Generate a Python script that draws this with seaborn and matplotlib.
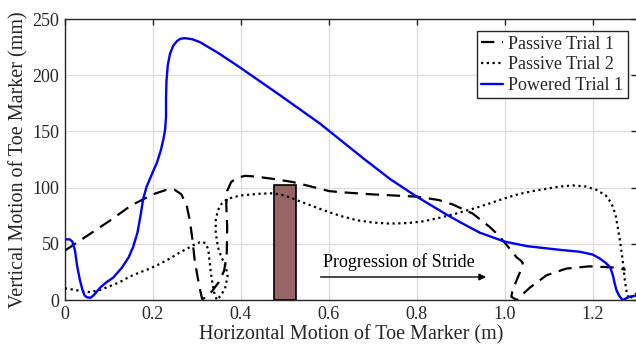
import numpy as np
import pandas as pd
import matplotlib
matplotlib.use("Agg")
import matplotlib.pyplot as plt
import seaborn as sns

# ---- data ----
powered_x = [0.0, 0.011, 0.017, 0.023, 0.028, 0.034, 0.04, 0.045, 0.05, 0.058, 0.065, 0.08,
             0.095, 0.11, 0.13, 0.145, 0.155, 0.165, 0.172, 0.178, 0.186, 0.2, 0.209, 0.218,
             0.224, 0.228, 0.23, 0.23, 0.231, 0.234, 0.239, 0.246, 0.255, 0.263, 0.273, 0.29,
             0.307, 0.35, 0.398, 0.49, 0.58, 0.682, 0.74, 0.8, 0.868, 0.9, 0.943, 1.0, 1.05,
             1.095, 1.13, 1.17, 1.2, 1.216, 1.23, 1.24, 1.246, 1.25, 1.254, 1.26, 1.268,
             1.276, 1.284, 1.3]
powered_y = [54, 54, 52, 44, 30, 18, 9, 4, 2.5, 2, 4, 11,
             16, 20, 29, 38, 47, 60, 75, 90, 101, 114, 122, 133,
             143, 152, 163, 180, 195, 209, 219, 226, 230.5, 232.5, 233, 232,
             229.5, 219.5, 207, 182, 157, 125, 107.5, 92, 76, 69, 60, 52, 48,
             46, 44.5, 43, 40.5, 37, 33, 29, 22, 15, 9, 4, 0,
             1.5, 3, 4]

passive1_x = [0.0, 0.05, 0.1, 0.15, 0.2, 0.23, 0.25, 0.265, 0.277, 0.284, 0.29, 0.295,
              0.302, 0.308, 0.312, 0.32, 0.335, 0.35, 0.362, 0.368, 0.369, 0.367, 0.369,
              0.378, 0.393, 0.41, 0.43, 0.47, 0.518, 0.56, 0.6, 0.625, 0.7, 0.8, 0.85,
              0.882, 0.91, 0.927, 0.95, 0.966, 0.985, 1.0, 1.015, 1.027, 1.037, 1.041,
              1.034, 1.018, 1.015, 1.027, 1.057, 1.095, 1.14, 1.193, 1.246, 1.275]
passive1_y = [44, 57, 70, 84, 94, 98, 98, 94, 84, 71, 54, 36,
              20, 8, 1, 2, 8, 16, 26, 40, 65, 85, 97,
              105, 109, 110.5, 110, 108, 105, 101, 97, 96, 94, 92, 89,
              85, 80, 77, 70, 65, 58, 51, 44, 38, 35, 33,
              24, 9, 3, 0, 11, 22, 28, 30, 29, 27]

passive2_x = [0.0, 0.03, 0.057, 0.08, 0.1, 0.125, 0.148, 0.17, 0.193, 0.215, 0.239, 0.26,
              0.284, 0.3, 0.311, 0.32, 0.326, 0.329, 0.332, 0.336, 0.341, 0.346, 0.356,
              0.364, 0.37, 0.366, 0.356, 0.348, 0.343, 0.343, 0.348, 0.357, 0.37, 0.398,
              0.44, 0.473, 0.5, 0.527, 0.56, 0.602, 0.63, 0.664, 0.7, 0.739, 0.78, 0.814,
              0.85, 0.89, 0.93, 0.966, 1.0, 1.034, 1.065, 1.095, 1.125, 1.155, 1.185, 1.209,
              1.23, 1.243, 1.252, 1.257, 1.262, 1.266, 1.27, 1.273, 1.277, 1.282, 1.29, 1.3]
passive2_y = [10.5, 8.5, 7, 9, 12, 16, 21, 24.5, 28, 32, 37, 42,
              47, 50.5, 52, 50.5, 45, 35, 24, 14, 4, 0, 5,
              10, 21, 30, 38, 47, 60, 71, 80, 86, 90, 93,
              94.5, 95, 93, 89, 84, 78, 74.5, 71, 69, 68, 68.5, 70,
              73, 77, 81.5, 86, 90.5, 94.5, 97, 99, 101, 102, 101, 98,
              93, 86, 76, 65, 53, 42, 30, 18, 8, 1, 3, 6]

bar_x = [0.5]
bar_h = [102]

labels = ["Passive Trial 1", "Passive Trial 2", "Powered Trial 1"]
xticks = [0, 0.2, 0.4, 0.6, 0.8, 1.0, 1.2]
xticklabels = ["0", "0.2", "0.4", "0.6", "0.8", "1.0", "1.2"]
yticks = [0, 50, 100, 150, 200, 250]

# ---- style ----
sns.set_theme(style="whitegrid")
plt.rcParams["font.family"] = ["Liberation Serif", "DejaVu Serif"]

fig = plt.figure(figsize=(6.36, 3.53), dpi=100)
ax = fig.add_axes([0.102, 0.150, 0.899, 0.796])

ax.bar(bar_x, bar_h, width=0.05, color="#966464", edgecolor="black", linewidth=1.2, zorder=3)

sns.lineplot(x=passive1_x, y=passive1_y, sort=False, estimator=None, ax=ax,
             color="black", linewidth=1.6, label=labels[0], zorder=4)
sns.lineplot(x=passive2_x, y=passive2_y, sort=False, estimator=None, ax=ax,
             color="black", linewidth=1.6, label=labels[1], zorder=4)
sns.lineplot(x=powered_x, y=powered_y, sort=False, estimator=None, ax=ax,
             color="#0000ff", linewidth=1.7, label=labels[2], zorder=5)
ax.lines[0].set_dashes([6, 3.5])
ax.lines[1].set_linestyle((0, (1, 1.6)))
for ln in ax.lines:
    ln.set_solid_joinstyle("round")
    ln.set_dash_joinstyle("round")

ax.set_xlim(0, 1.3)
ax.set_ylim(0, 250)
ax.set_xticks(xticks)
ax.set_xticklabels(xticklabels)
ax.set_yticks(yticks)
ax.tick_params(axis="both", labelsize=13, direction="in", length=4, width=1,
               color="#262626", top=True, right=True, pad=4, labelcolor="#262626")
ax.grid(True, color="#dcdcdc", linewidth=0.9)
for s in ax.spines.values():
    s.set_color("#262626")
    s.set_linewidth(1.0)
    s.set_visible(True)

ax.set_xlabel("Horizontal Motion of Toe Marker (m)", fontsize=14.5, color="#262626", labelpad=2)
ax.set_ylabel("Vertical Motion of Toe Marker (mm)", fontsize=14.5, color="#262626", labelpad=3)

ax.annotate("", xy=(0.964, 20.5), xytext=(0.575, 20.5),
            arrowprops=dict(arrowstyle="-|>", color="black", lw=1.0, mutation_scale=10), zorder=6)
ax.text(0.586, 34, "Progression of Stride", fontsize=13, va="center", ha="left", color="black")

leg = ax.legend(loc="upper right", bbox_to_anchor=(0.985, 0.957), fontsize=13, frameon=True,
                fancybox=False, edgecolor="#262626", framealpha=1, handlelength=1.2,
                handletextpad=0.3, borderpad=0.25, labelspacing=0.2, borderaxespad=0)
leg.get_frame().set_linewidth(1.0)

fig.savefig("out.png", dpi=100)
